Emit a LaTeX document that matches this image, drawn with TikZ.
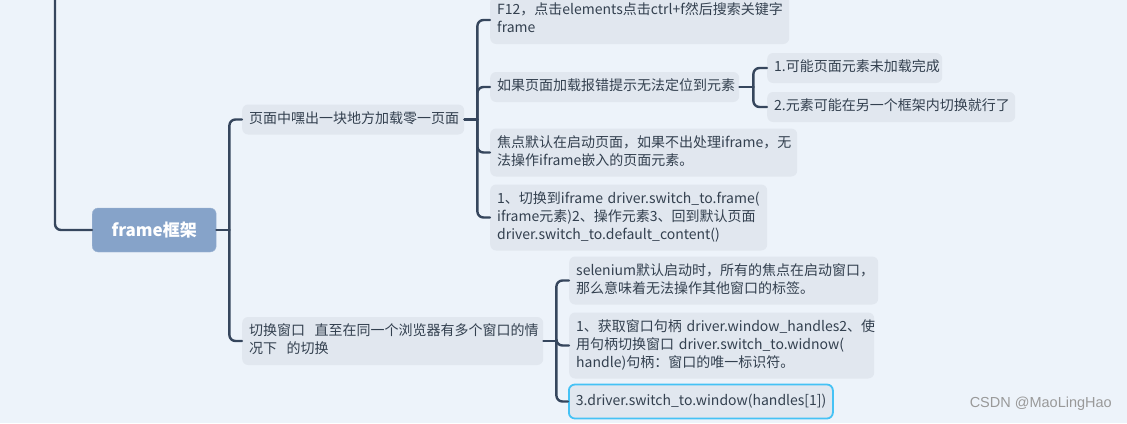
\documentclass[tikz,border=0pt]{standalone}
\usepackage{fontspec}
\setmainfont{Noto Sans CJK SC}
\newfontfamily\wmfont{Liberation Sans}
\usetikzlibrary{positioning}
\definecolor{bgc}{HTML}{EDF3FA}
\definecolor{boxc}{HTML}{E1E7EF}
\definecolor{linec}{HTML}{36465D}
\definecolor{txtc}{HTML}{33404F}
\definecolor{rootc}{HTML}{86A3C9}
\definecolor{selc}{HTML}{45C2F5}

\begin{document}
\begin{tikzpicture}[line cap=round,line join=round,x=1pt,y=-1pt,
  topic/.style={anchor=west,fill=boxc,rounded corners=6pt,text=txtc,inner xsep=7pt,inner ysep=6pt,
    align=left,font=\fontsize{14}{18}\selectfont,
    execute at begin node=\strut,execute at end node=\strut},
  conn/.style={draw=linec,line width=2.4pt,rounded corners=6pt}]
\useasboundingbox[fill=bgc] (0,0) rectangle (1127,423);
% root
\node (root) at (92,230) [anchor=west,fill=rootc,draw=rootc!80!white,rounded corners=6pt,
  minimum width=124pt,minimum height=44pt,text=white,font=\fontsize{17}{20}\selectfont\bfseries] {frame框架};
\coordinate (top) at (55,-10);
% main topics
\node (n1) at (242,119.5) [topic,text width=208pt] {页面中嘿出一块地方加载零一页面};
\node (n2) at (242,341) [topic,text width=287pt] {切换窗口~~直至在同一个浏览器有多个窗口的情\\况下~~的切换};
% under n1
\node (c1) at (490,20) [topic,text width=285pt] {F12，点击elements点击ctrl+f然后搜索关键字\\frame};
\node (c2) at (490,87) [topic,text width=235pt] {如果页面加载报错提示无法定位到元素};
\node (c3) at (490,152.5) [topic,text width=293pt] {焦点默认在启动页面，如果不出处理iframe，无\\法操作iframe嵌入的页面元素。};
\node (c4) at (490,217.5) [topic,text width=263pt] {1、切换到iframe~driver.switch\_to.frame(\\iframe元素)2、操作元素3、回到默认页面\\driver.switch\_to.default\_content()};
\node (g1) at (767,68) [topic,text width=161pt] {1.可能页面元素未加载完成};
\node (g2) at (767,107) [topic,text width=234pt] {2.元素可能在另一个框架内切换就行了};
% under n2
\node (d1) at (569,280.5) [topic,text width=295pt] {selenium默认启动时，所有的焦点在启动窗口，\\那么意味着无法操作其他窗口的标签。};
\node (d2) at (569,345.5) [topic,text width=291pt] {1、获取窗口句柄~driver.window\_handles2、使\\用句柄切换窗口~driver.switch\_to.widnow(\\handle)句柄：窗口的唯一标识符。};
\node (d3) at (568,401.5) [topic,text width=250pt,inner ysep=8pt,draw=selc,line width=1.8pt] {3.driver.switch\_to.window(handles[1])};
% connectors
\draw[conn] (top) |- (root.west);
\draw[conn] (root.east) -- ++(13,0) coordinate (j1);
\draw[conn] (j1) |- (n1.west);
\draw[conn] (j1) |- (n2.west);
\draw[conn] (n1.east) -- ++(13,0) coordinate (j2);
\foreach \c in {c1,c2,c3,c4}
  \draw[conn] (j2) |- (\c.west);
\draw[conn] (c2.east) -- ++(14,0) coordinate (j3);
\foreach \c in {g1,g2}
  \draw[conn] (j3) |- (\c.west);
\draw[conn] (n2.east) -- ++(13,0) coordinate (j4);
\foreach \c in {d1,d2,d3}
  \draw[conn] (j4) |- (\c.west);
% watermark
\node (wm) at (1112,404) [anchor=east,text=black!40,font=\wmfont\fontsize{14.5}{16}\selectfont,inner sep=0pt] {CSDN @MaoLingHao};
\end{tikzpicture}
\end{document}
